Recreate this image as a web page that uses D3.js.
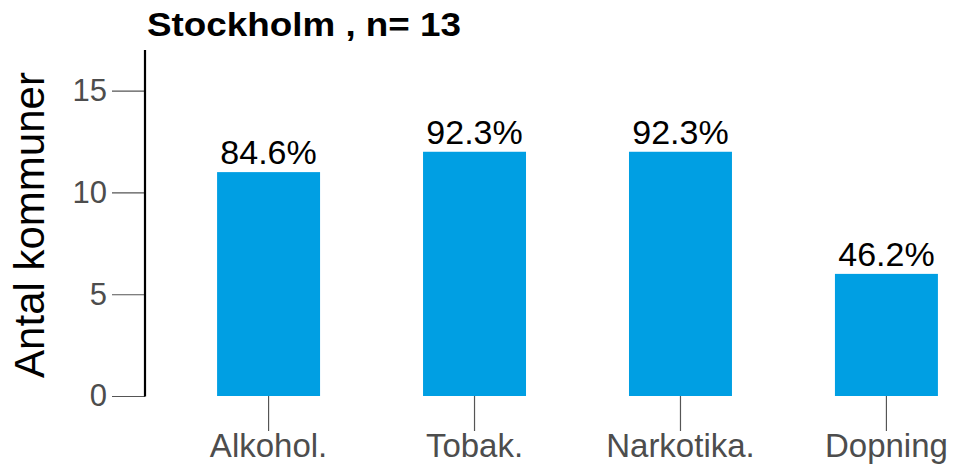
<!DOCTYPE html>
<html>
<head>
<meta charset="utf-8">
<script src="https://cdn.jsdelivr.net/npm/d3@7"></script>
<style>
  body { margin: 0; background: #fff; }
  svg { display: block; font-family: "Liberation Sans", Arial, sans-serif; }
</style>
</head>
<body>
<svg id="chart" width="955" height="470"></svg>
<script>
// Number of municipalities per substance area, Stockholm
const categories = ["Alkohol.", "Tobak.", "Narkotika.", "Dopning"];
const counts = [11, 12, 12, 6];
const total = 13;
const yTicks = [0, 5, 10, 15];
const titleText = "Stockholm , n= 13";
const yLabel = "Antal kommuner";

const svg = d3.select("#chart");
const axisX = 145, baseY = 396, topY = 50;

const x = d3.scaleBand()
  .domain(categories)
  .range([145, 1010])
  .paddingInner(0.5)
  .paddingOuter(0.35);

const y = d3.scaleLinear().domain([0, 17]).range([baseY, topY]);

// Bars
svg.append("g").selectAll("rect")
  .data(categories)
  .join("rect")
  .attr("x", d => x(d))
  .attr("width", x.bandwidth())
  .attr("y", (d, i) => y(counts[i]))
  .attr("height", (d, i) => y(0) - y(counts[i]))
  .attr("fill", "#009fe3");

// Percentage labels above bars
svg.append("g").selectAll("text")
  .data(categories)
  .join("text")
  .attr("x", d => x(d) + x.bandwidth() / 2)
  .attr("y", (d, i) => y(counts[i]) - 8)
  .attr("text-anchor", "middle")
  .attr("font-size", 34)
  .attr("fill", "#000")
  .text((d, i) => (counts[i] / total * 100).toFixed(1) + "%");

// Y axis
const yAxis = svg.append("g")
  .attr("transform", `translate(${axisX},0)`)
  .call(d3.axisLeft(y).tickValues(yTicks).tickSize(33).tickPadding(5).tickFormat(d3.format("d")));
yAxis.select(".domain").remove();
yAxis.selectAll(".tick line").attr("stroke", "#555").attr("stroke-width", 1.2);
yAxis.selectAll(".tick text")
  .attr("font-size", 31)
  .attr("fill", "#4d4d4d")
  .attr("font-family", "Liberation Sans, Arial, sans-serif");
svg.append("line")
  .attr("x1", axisX).attr("x2", axisX)
  .attr("y1", y(17)).attr("y2", y(0) + 0.5)
  .attr("stroke", "#000").attr("stroke-width", 2.2);

// X axis (ticks and labels only)
const xAxis = svg.append("g")
  .attr("transform", `translate(0,${baseY})`)
  .call(d3.axisBottom(x).tickSize(35).tickPadding(3));
xAxis.select(".domain").remove();
xAxis.selectAll(".tick line").attr("stroke", "#555").attr("stroke-width", 1.2);
xAxis.selectAll(".tick text")
  .attr("font-size", 33)
  .attr("fill", "#4d4d4d")
  .attr("font-family", "Liberation Sans, Arial, sans-serif");

// Title
svg.append("text")
  .attr("x", 147).attr("y", 36)
  .attr("font-size", 33)
  .attr("font-weight", "bold")
  .attr("fill", "#000")
  .attr("textLength", 314)
  .attr("lengthAdjust", "spacingAndGlyphs")
  .text(titleText);

// Y axis title
svg.append("text")
  .attr("transform", `translate(44,225) rotate(-90)`)
  .attr("text-anchor", "middle")
  .attr("font-size", 42)
  .attr("fill", "#000")
  .text(yLabel);
</script>
</body>
</html>
